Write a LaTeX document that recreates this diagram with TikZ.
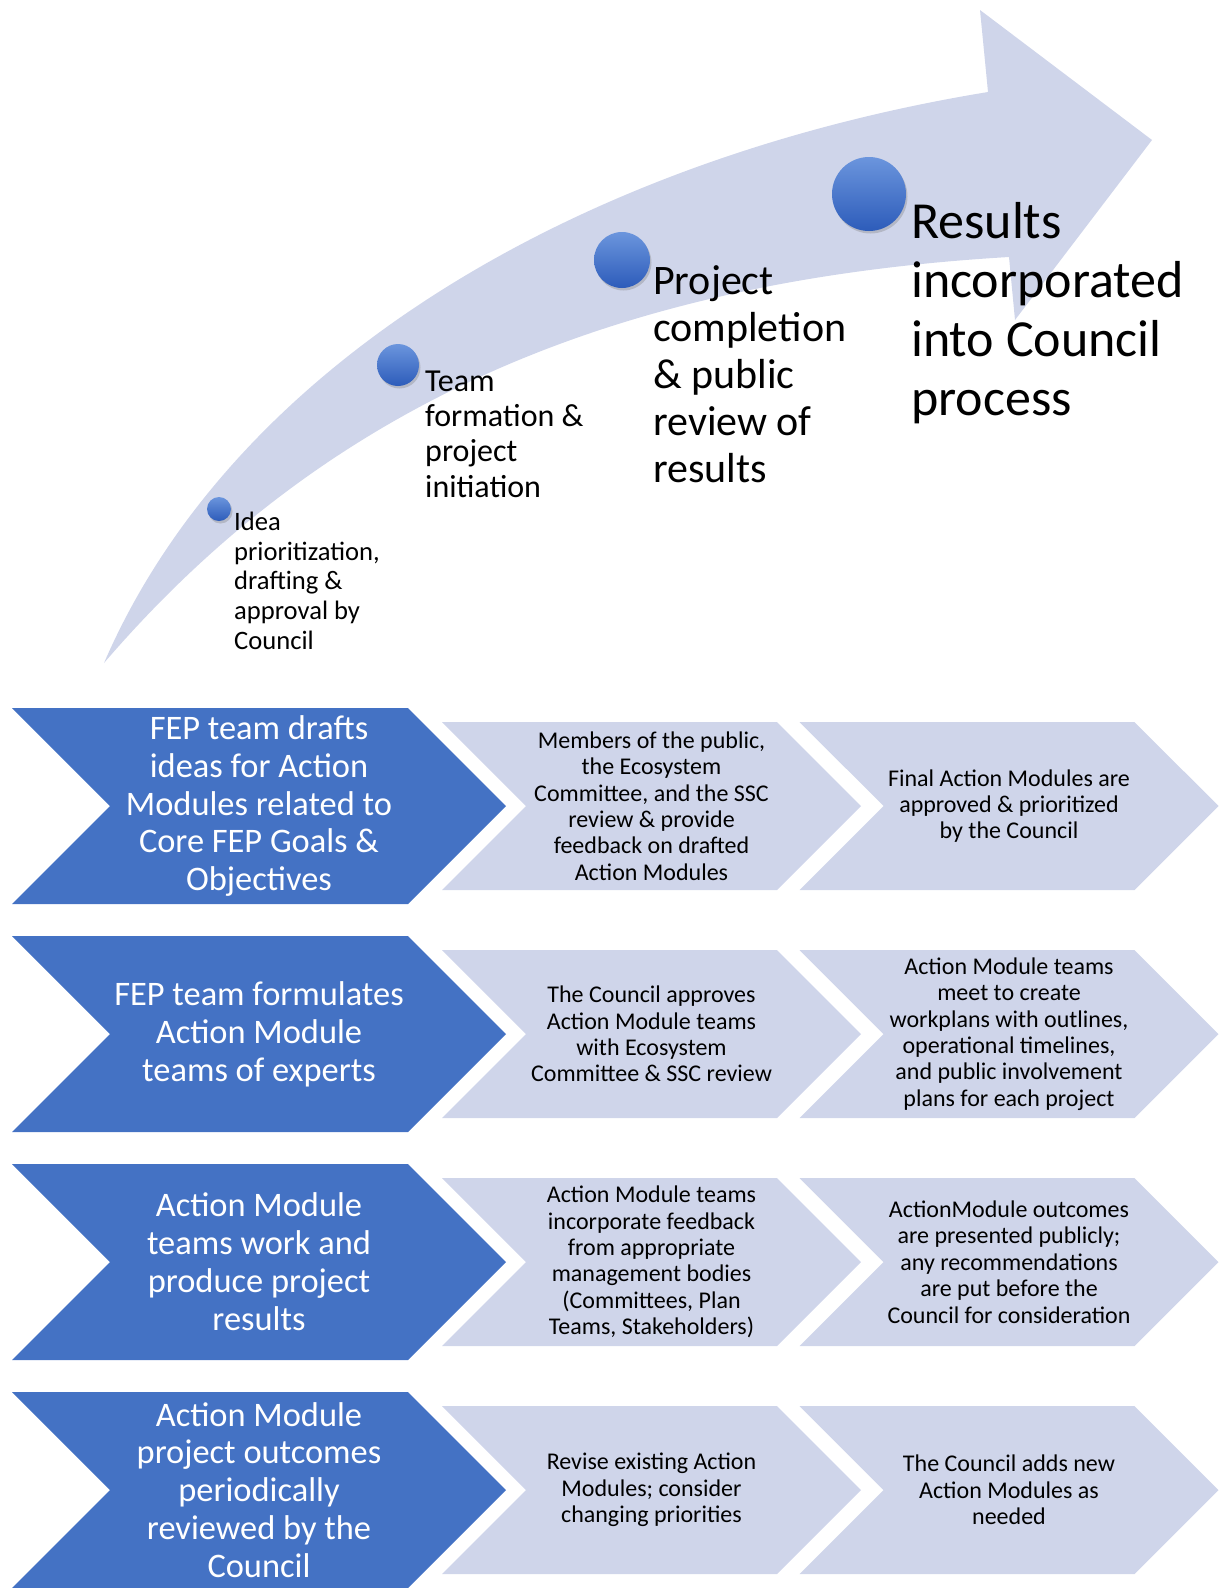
\documentclass[tikz,border=0pt]{standalone}
\usepackage{fontspec}
\setmainfont{Carlito}
\usetikzlibrary{shapes.symbols, shadows}
\definecolor{fepblue}{HTML}{4472C4}
\definecolor{feplight}{HTML}{CFD5EA}
\definecolor{balltop}{HTML}{6B95DD}
\definecolor{ballbot}{HTML}{2D5CBA}

\begin{document}
\begin{tikzpicture}[
        x=1pt, y=-1pt,
        chev/.style={
            signal,
            signal from=west,
            signal to=east,
            signal pointer angle=90,
            inner sep=0pt,
            align=center,
        },
        lead/.style={
            chev,
            fill=fepblue,
            text=white,
            minimum width=494pt,
            minimum height=196pt,
            font=\fontsize{34.4}{37.9}\selectfont,
        },
        later/.style={
            chev,
            fill=feplight,
            text=black,
            minimum width=419pt,
            minimum height=168pt,
            font=\fontsize{24}{26.4}\selectfont,
        },
        ball/.style={
            circle,
            inner sep=0pt,
            top color=balltop,
            bottom color=ballbot,
            drop shadow={opacity=0.35, shadow xshift=1.5pt, shadow yshift=-2.5pt},
        },
        stage/.style={
            anchor=base west,
            inner sep=0pt,
            align=left,
        },
    ]
    \useasboundingbox (0,0) rectangle (1220,1588);

    \fill[feplight] (104,663) .. controls (235,360) and (585,158) .. (988,92)
        -- (980,10) -- (1152,140) -- (1015,320) -- (1009,257)
        .. controls (620,280) and (330,400) .. cycle;

    \node[ball, minimum size=24pt] (c1) at (219,509) {};
    \node[ball, minimum size=42pt] (c2) at (398,365) {};
    \node[ball, minimum size=56pt] (c3) at (622,260) {};
    \node[ball, minimum size=74pt] (c4) at (869,194) {};

    % base of a multi-line node is its last line
    \node[stage, font=\fontsize{26.6}{29.6}\selectfont] (t1) at (234,649)
        {Idea\\prioritization,\\drafting \&\\approval by\\Council};
    \node[stage, font=\fontsize{32}{35.1}\selectfont] (t2) at (425,497)
        {Team\\formation \&\\project\\initiation};
    \node[stage, font=\fontsize{42}{46.9}\selectfont] (t3) at (653,482)
        {Project\\completion\\\& public\\review of\\results};
    \node[stage, font=\fontsize{52}{58.7}\selectfont] (t4) at (911,415)
        {Results\\incorporated\\into Council\\process};

    \node[lead] (b1) at (259,806)
        {FEP team drafts\\ideas for Action\\Modules related to\\Core FEP Goals \&\\Objectives};
    \node[later] (m1) at (651.5,806)
        {Members of the public,\\the Ecosystem\\Committee, and the SSC\\review \& provide\\feedback on drafted\\Action Modules};
    \node[later] (f1) at (1009,806)
        {Final Action Modules are\\approved \& prioritized\\by the Council};

    \node[lead] (b2) at (259,1034)
        {FEP team formulates\\Action Module\\teams of experts};
    \node[later] (m2) at (651.5,1034)
        {The Council approves\\Action Module teams\\with Ecosystem\\Committee \& SSC review};
    \node[later] (f2) at (1009,1034)
        {Action Module teams\\meet to create\\workplans with outlines,\\operational timelines,\\and public involvement\\plans for each project};

    \node[lead] (b3) at (259,1262)
        {Action Module\\teams work and\\produce project\\results};
    \node[later] (m3) at (651.5,1262)
        {Action Module teams\\incorporate feedback\\from appropriate\\management bodies\\(Committees, Plan\\Teams, Stakeholders)};
    \node[later] (f3) at (1009,1262)
        {ActionModule outcomes\\are presented publicly;\\any recommendations\\are put before the\\Council for consideration};

    \node[lead] (b4) at (259,1490)
        {Action Module\\project outcomes\\periodically\\reviewed by the\\Council};
    \node[later] (m4) at (651.5,1490)
        {Revise existing Action\\Modules; consider\\changing priorities};
    \node[later] (f4) at (1009,1490)
        {The Council adds new\\Action Modules as\\needed};
\end{tikzpicture}
\end{document}
